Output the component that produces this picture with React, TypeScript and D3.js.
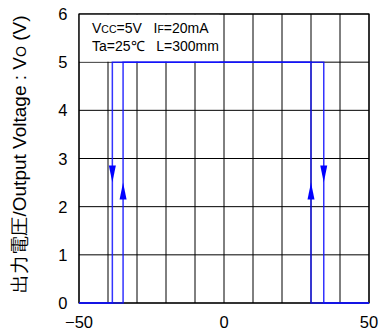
import React from "react";
import * as d3 from "d3";

const xGrid = [-50, -40, -30, -20, -10, 0, 10, 20, 30, 40, 50];
const xLabels = [-50, 0, 50];
const yGrid = [0, 1, 2, 3, 4, 5, 6];

// Output switching paths (position vs output voltage)
const forwardX = [-50, -34.8, -34.8, 34.4, 34.4, 50];
const forwardY = [0, 0, 5, 5, 0, 0];
const backwardX = [50, 30, 30, -38.5, -38.5, -50];
const backwardY = [0, 0, 5, 5, 0, 0];

const arrowX = [-38.5, -34.8, 30, 34.4];
const arrowDir = [-1, 1, 1, -1]; // -1 = down, 1 = up
const arrowTipY = [2.5, 2.5, 2.5, 2.5];

const W = 379;
const H = 334;

export default function App() {
  const x = d3.scaleLinear().domain([-50, 50]).range([79, 369]);
  const y = d3.scaleLinear().domain([0, 6]).range([303, 14]);

  const mkPath = (xs: number[], ys: number[]) =>
    d3
      .line<[number, number]>()
      .x((d) => x(d[0]))
      .y((d) => y(d[1]))(xs.map((v, i) => [v, ys[i]]))!;

  const font = "'Liberation Sans', Arial, sans-serif";
  const blue = "#1010ff";

  return (
    <svg
      width={W}
      height={H}
      style={{ position: "absolute", left: 0, top: 0, background: "#fff" }}
    >
      {/* grid */}
      {xGrid.map((v) => (
        <line
          key={"gx" + v}
          x1={x(v)}
          x2={x(v)}
          y1={y(0)}
          y2={y(6)}
          stroke="#000"
          strokeWidth={1}
        />
      ))}
      {yGrid.map((v) => (
        <line
          key={"gy" + v}
          x1={x(-50)}
          x2={x(50)}
          y1={y(v)}
          y2={y(v)}
          stroke="#000"
          strokeWidth={1}
        />
      ))}
      {/* condition box background */}
      <rect x={x(-50) + 0.5} y={y(6) + 0.5} width={140} height={y(5) - y(6) - 1} fill="#fff" />
      <rect
        x={x(-50)}
        y={y(6)}
        width={x(50) - x(-50)}
        height={y(0) - y(6)}
        fill="none"
        stroke="#000"
        strokeWidth={1.2}
      />
      {/* curves */}
      <path d={mkPath(forwardX, forwardY)} fill="none" stroke={blue} strokeWidth={1.5} strokeOpacity={0.85} />
      <path d={mkPath(backwardX, backwardY)} fill="none" stroke={blue} strokeWidth={1.5} strokeOpacity={0.85} />
      {arrowX.map((v, i) => {
        const tx = x(v);
        const ty = y(arrowTipY[i]);
        const dir = arrowDir[i];
        const base = ty + dir * 17;
        const p = d3.path();
        p.moveTo(tx, ty);
        p.lineTo(tx - 3.5, base);
        p.lineTo(tx + 3.5, base);
        p.closePath();
        return <path key={"a" + i} d={p.toString()} fill="#0000ff" />;
      })}
      {/* conditions text */}
      <text x={92} y={33} fontFamily={font} fontSize={14} fill="#000">
        V<tspan fontSize={10.5}>CC</tspan>=5V{"\u00a0\u00a0\u00a0"}I<tspan fontSize={10.5}>F</tspan>=20mA
      </text>
      <text x={92} y={51} fontFamily={font} fontSize={14} fill="#000">
        Ta=25℃{"\u00a0\u00a0\u00a0"}L=300mm
      </text>
      {/* y tick labels */}
      {yGrid.map((v) => (
        <text
          key={"yl" + v}
          x={67.5}
          y={y(v) + 6}
          textAnchor="end"
          fontFamily={font}
          fontSize={16.5}
          fill="#000"
        >
          {v}
        </text>
      ))}
      {/* x tick labels */}
      {xLabels.map((v) => (
        <text
          key={"xl" + v}
          x={x(v)}
          y={328}
          textAnchor="middle"
          fontFamily={font}
          fontSize={16.5}
          fill="#000"
        >
          {v < 0 ? "\u2212" + Math.abs(v) : v}
        </text>
      ))}
      {/* y axis title */}
      <text
        transform={`translate(25.5,154) rotate(-90)`}
        textAnchor="middle"
        fontFamily={font}
        fontSize={19}
        fill="#000"
      >
        出力電圧/Output Voltage : V<tspan fontSize={14}>O</tspan> (V)
      </text>
    </svg>
  );
}
